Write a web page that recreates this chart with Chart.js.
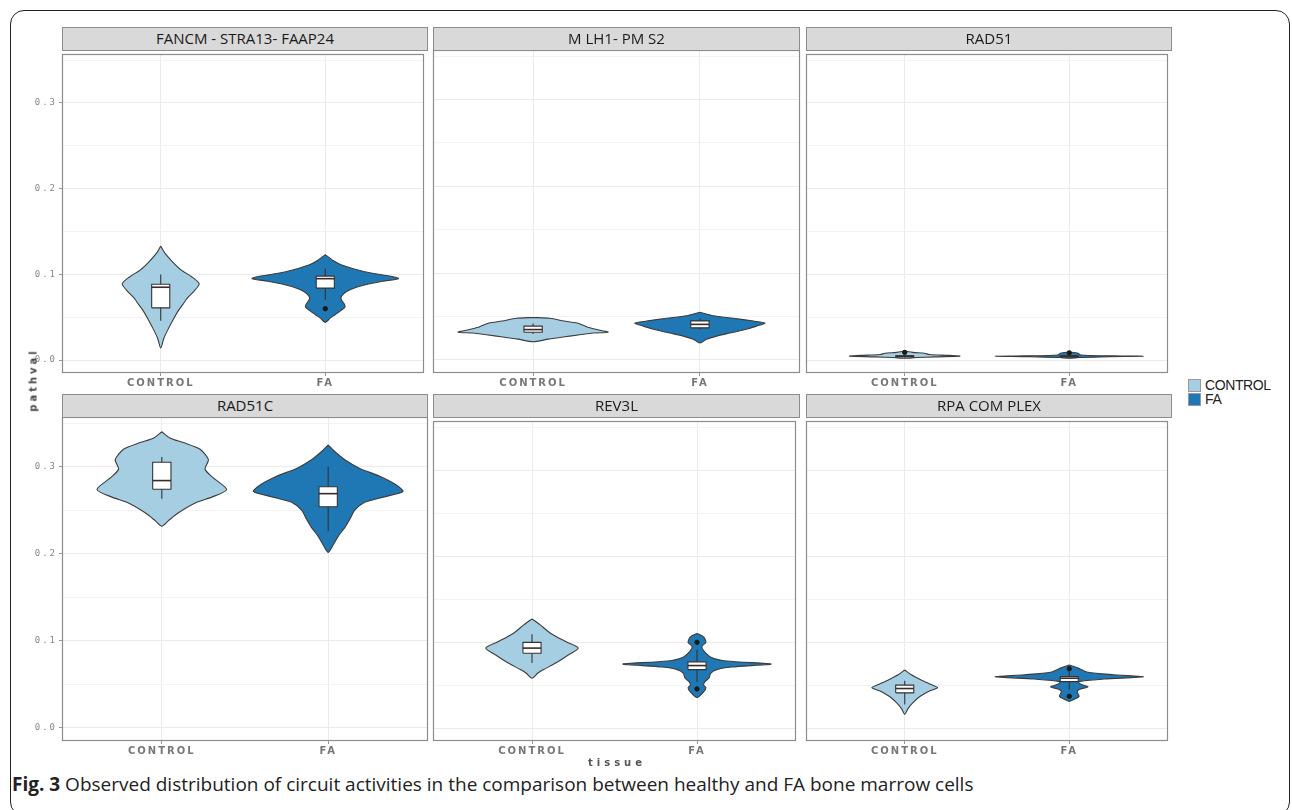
<!DOCTYPE html>
<html lang="en">
<head>
<meta charset="UTF-8">
<title>Fig. 3 circuit activities</title>
<script src="https://cdn.jsdelivr.net/npm/chart.js"></script>
<style>
  body { margin: 0; width: 1292px; height: 810px; background: #fff; position: relative; overflow: hidden; font-family: "Open Sans", sans-serif; }
  .frame { position: absolute; left: 10px; top: 10px; width: 1280px; height: 806px; border: 1.5px solid #222; border-radius: 14px; box-sizing: border-box; }
  .strip { position: absolute; background: #d9d9d9; border: 1px solid #8c8c8c; box-sizing: border-box; text-align: center; font-size: 15px; color: #1a1a1a; line-height: 21px; }
  .panel { position: absolute; }
  .ytitle { position: absolute; left: 33px; top: 380px; transform: translate(-50%, -50%) rotate(-90deg); font: bold 10px "DejaVu Sans", sans-serif; letter-spacing: 3px; color: #444; white-space: nowrap; }
  .xtitle { position: absolute; left: 617px; top: 757px; transform: translateX(-50%); font: bold 10px "DejaVu Sans", sans-serif; letter-spacing: 4px; color: #555; }
  .legend { position: absolute; left: 1188px; top: 378px; font: 14px "Liberation Sans", sans-serif; letter-spacing: -0.4px; color: #222; }
  .legend div { height: 14px; line-height: 14px; display: flex; align-items: center; }
  .legend span.key { width: 13px; height: 13px; border: 1px solid #999; box-sizing: border-box; margin-right: 4px; }
  .caption { position: absolute; left: 12px; top: 771px; font-size: 19px; color: #222; white-space: nowrap; }
</style>
</head>
<body>
<div class="frame"></div>
<div id="plots"></div>
<div class="ytitle">pathval</div>
<div class="xtitle">tissue</div>
<div class="legend">
  <div><span class="key" style="background:#a6cee3"></span>CONTROL</div>
  <div><span class="key" style="background:#1f78b4"></span>FA</div>
</div>
<div class="caption"><b>Fig. 3</b> Observed distribution of circuit activities in the comparison between healthy and FA bone marrow cells</div>

<script>
// categories and facets
const groups = ['CONTROL', 'FA'];
const panelNames = ['FANCM - STRA13- FAAP24', 'M LH1- PM S2', 'RAD51', 'RAD51C', 'REV3L', 'RPA COM PLEX'];
const yTicks = [0, 0.05, 0.1, 0.15, 0.2, 0.25, 0.3, 0.35];
const yMin = -0.015, yMax = 0.357;

// violin outlines: [pathval, half width in x units], top tip to bottom tip
const fancmControl = [[0.133,0],[0.125,0.024],[0.115,0.07],[0.105,0.125],[0.097,0.19],[0.089,0.234],[0.080,0.2],[0.072,0.16],[0.065,0.135],[0.058,0.108],[0.046,0.072],[0.035,0.042],[0.025,0.018],[0.014,0]];
const fancmFa = [[0.123,0],[0.116,0.05],[0.111,0.1],[0.103,0.24],[0.097,0.42],[0.095,0.445],[0.092,0.35],[0.089,0.27],[0.085,0.19],[0.080,0.13],[0.075,0.1],[0.071,0.096],[0.066,0.114],[0.062,0.12],[0.058,0.096],[0.053,0.06],[0.049,0.03],[0.044,0]];
const mlh1Control = [[0.049,0],[0.048,0.1],[0.0448,0.186],[0.0425,0.264],[0.038,0.324],[0.0356,0.37],[0.032,0.45],[0.031,0.36],[0.029,0.28],[0.0265,0.18],[0.024,0.09],[0.021,0]];
const mlh1Fa = [[0.055,0],[0.051,0.08],[0.048,0.2],[0.0448,0.32],[0.0425,0.39],[0.039,0.34],[0.0345,0.26],[0.031,0.18],[0.0275,0.1],[0.024,0.04],[0.0195,0]];
const rad51Control = [[0.0105,0],[0.009,0.05],[0.008,0.12],[0.0065,0.15],[0.0055,0.27],[0.0046,0.335],[0.0038,0.18],[0.003,0.07],[0.0022,0]];
const rad51Fa = [[0.0095,0],[0.008,0.054],[0.006,0.07],[0.005,0.24],[0.0046,0.45],[0.004,0.24],[0.003,0.06],[0.0022,0]];
const rad51cControl = [[0.340,0],[0.333,0.048],[0.3276,0.13],[0.320,0.23],[0.308,0.28],[0.297,0.26],[0.287,0.31],[0.2738,0.39],[0.265,0.3],[0.259,0.21],[0.247,0.1],[0.238,0.04],[0.2315,0]];
const rad51cFa = [[0.325,0],[0.318,0.036],[0.308,0.1],[0.298,0.19],[0.289,0.31],[0.280,0.4],[0.2715,0.45],[0.265,0.33],[0.259,0.22],[0.250,0.16],[0.2395,0.13],[0.230,0.1],[0.220,0.06],[0.210,0.03],[0.2015,0]];
const rev3lControl = [[0.127,0],[0.120,0.05],[0.110,0.114],[0.100,0.21],[0.093,0.28],[0.085,0.22],[0.0756,0.144],[0.068,0.07],[0.064,0.036],[0.058,0]];
const rev3lFa = [[0.110,0],[0.106,0.04],[0.0997,0.054],[0.095,0.03],[0.090,0.04],[0.0825,0.084],[0.078,0.18],[0.0745,0.45],[0.071,0.21],[0.068,0.12],[0.064,0.084],[0.058,0.072],[0.054,0.048],[0.050,0.04],[0.047,0.054],[0.042,0.04],[0.0355,0]];
const rpaControl = [[0.0676,0],[0.062,0.04],[0.056,0.1],[0.051,0.156],[0.047,0.2],[0.043,0.15],[0.0355,0.084],[0.0275,0.04],[0.022,0.018],[0.016,0]];
const rpaFa = [[0.0733,0],[0.070,0.05],[0.065,0.114],[0.062,0.27],[0.0596,0.45],[0.057,0.21],[0.054,0.054],[0.051,0.07],[0.048,0.114],[0.045,0.06],[0.042,0.048],[0.037,0.06],[0.034,0.036],[0.031,0]];

// box stats: [lower whisker, Q1, median, Q3, upper whisker]
const fancmControlBox = [0.046, 0.061, 0.085, 0.0885, 0.100];
const fancmFaBox = [0.070, 0.084, 0.095, 0.098, 0.107];
const mlh1ControlBox = [0.030, 0.032, 0.035, 0.039, 0.042];
const mlh1FaBox = [0.035, 0.037, 0.041, 0.045, 0.048];
const rad51ControlBox = [0.003, 0.004, 0.0046, 0.005, 0.006];
const rad51FaBox = [0.003, 0.004, 0.0046, 0.005, 0.006];
const rad51cControlBox = [0.263, 0.274, 0.284, 0.305, 0.311];
const rad51cFaBox = [0.2257, 0.254, 0.269, 0.277, 0.300];
const rev3lControlBox = [0.0756, 0.087, 0.093, 0.0997, 0.109];
const rev3lFaBox = [0.0535, 0.068, 0.0727, 0.077, 0.091];
const rpaControlBox = [0.0275, 0.041, 0.046, 0.050, 0.055];
const rpaFaBox = [0.045, 0.054, 0.058, 0.060, 0.066];

// outlier points
const fancmFaOut = [0.060];
const rad51ControlOut = [0.009];
const rad51FaOut = [0.0085];
const rev3lFaOut = [0.0997, 0.0455];
const rpaFaOut = [0.069, 0.037];

const panels = [
  { violins: [fancmControl, fancmFa], boxes: [fancmControlBox, fancmFaBox], outliers: [[], fancmFaOut] },
  { violins: [mlh1Control, mlh1Fa], boxes: [mlh1ControlBox, mlh1FaBox], outliers: [[], []] },
  { violins: [rad51Control, rad51Fa], boxes: [rad51ControlBox, rad51FaBox], outliers: [rad51ControlOut, rad51FaOut] },
  { violins: [rad51cControl, rad51cFa], boxes: [rad51cControlBox, rad51cFaBox], outliers: [[], []] },
  { violins: [rev3lControl, rev3lFa], boxes: [rev3lControlBox, rev3lFaBox], outliers: [[], rev3lFaOut] },
  { violins: [rpaControl, rpaFa], boxes: [rpaControlBox, rpaFaBox], outliers: [[], rpaFaOut] }
];

const fills = ['#a6cee3', '#1f78b4'];
const outline = '#3c3c3c';
const boxHalf = 0.055;

// layout of the facet grid
const colLeft = [62, 433, 806], colW = [366, 367, 366];
const rowTop = [50, 417], rowH = [323, 324];
const stripH = 23, xH = 20, yW = 34;

function violinPoints(profile, c) {
  const right = profile.map(([y, w]) => ({ x: c + w, y }));
  const left = profile.slice().reverse().map(([y, w]) => ({ x: c - w, y }));
  return right.concat(left.slice(1));
}

function buildDatasets(p) {
  const sets = [];
  groups.forEach((g, i) => {
    const c = i + 1;
    const [lo, q1, med, q3, hi] = p.boxes[i];
    sets.push({ data: violinPoints(p.violins[i], c), showLine: true, fill: 'shape', backgroundColor: fills[i],
      borderColor: outline, borderWidth: 1.1, tension: 0.25, pointRadius: 0, order: 5 });
    sets.push({ data: [{ x: c, y: lo }, { x: c, y: hi }], showLine: true, borderColor: '#333', borderWidth: 1.1, pointRadius: 0, order: 4 });
    sets.push({ data: [{ x: c - boxHalf, y: q1 }, { x: c + boxHalf, y: q1 }, { x: c + boxHalf, y: q3 }, { x: c - boxHalf, y: q3 }, { x: c - boxHalf, y: q1 }],
      showLine: true, fill: 'shape', backgroundColor: '#fff', borderColor: '#333', borderWidth: 1.1, pointRadius: 0, order: 3 });
    sets.push({ data: [{ x: c - boxHalf, y: med }, { x: c + boxHalf, y: med }], showLine: true, borderColor: '#3a2a2a', borderWidth: 1.6, pointRadius: 0, order: 2 });
    sets.push({ data: p.outliers[i].map(v => ({ x: c, y: v })), showLine: false, pointRadius: 2.2, backgroundColor: '#1a1a1a', borderColor: '#1a1a1a', order: 1 });
  });
  return sets;
}

// panel border drawn round the chart area
const panelFrame = {
  id: 'panelFrame',
  afterDraw(chart) {
    const { ctx, chartArea: a } = chart;
    ctx.save();
    ctx.strokeStyle = '#8c8c8c';
    ctx.lineWidth = 1.2;
    ctx.strokeRect(a.left + 0.5, a.top + 0.5, a.right - a.left - 1, a.bottom - a.top - 1);
    ctx.restore();
  }
};

// spaced-out tick text like the original
const spacedText = {
  id: 'spacedText',
  beforeDraw(chart) { chart.ctx.letterSpacing = '2px'; },
  afterDraw(chart) { chart.ctx.letterSpacing = '0px'; }
};

const isMajor = v => Math.abs(v * 10 - Math.round(v * 10)) < 1e-9;
const clear = 'rgba(0,0,0,0)';
const host = document.getElementById('plots');

panels.forEach((p, idx) => {
  const r = Math.floor(idx / 3), c = idx % 3;
  const left = c === 0;

  const strip = document.createElement('div');
  strip.className = 'strip';
  strip.style.left = colLeft[c] + 'px';
  strip.style.top = (rowTop[r] - stripH) + 'px';
  strip.style.width = colW[c] + 'px';
  strip.style.height = (stripH + 1) + 'px';
  strip.textContent = panelNames[idx];
  document.body.appendChild(strip);

  const box = document.createElement('div');
  box.className = 'panel';
  box.style.left = (colLeft[c] - yW) + 'px';
  box.style.top = (rowTop[r] - 1) + 'px';
  box.style.width = (colW[c] + yW + 1) + 'px';
  box.style.height = (rowH[r] + 1 + xH) + 'px';
  const canvas = document.createElement('canvas');
  box.appendChild(canvas);
  host.appendChild(box);

  new Chart(canvas, {
    type: 'scatter',
    data: { datasets: buildDatasets(p) },
    options: {
      responsive: true,
      maintainAspectRatio: false,
      animation: false,
      layout: { padding: { top: 1, right: 1, left: 0, bottom: 0 } },
      plugins: { legend: { display: false }, tooltip: { enabled: false } },
      scales: {
        x: {
          type: 'linear', min: 0.4, max: 2.6,
          afterBuildTicks: s => { s.ticks = [{ value: 1 }, { value: 2 }]; },
          afterFit: s => { s.height = xH; s.paddingLeft = 0; s.paddingRight = 0; },
          ticks: { callback: v => groups[Math.round(v) - 1], color: '#777', padding: 1, maxRotation: 0,
            font: { family: 'DejaVu Sans', size: 10, weight: 'bold' } },
          grid: { color: '#ebebeb', tickColor: '#999', tickLength: 3 },
          border: { display: false }
        },
        y: {
          type: 'linear', min: yMin, max: yMax,
          afterBuildTicks: s => { s.ticks = yTicks.map(v => ({ value: v })); },
          afterFit: s => { s.width = yW; s.paddingTop = 0; s.paddingBottom = 0; },
          ticks: { callback: v => isMajor(v) ? v.toFixed(1) : '', color: left ? '#888' : clear, padding: 2,
            font: { family: 'DejaVu Sans Mono', size: 9 } },
          grid: {
            color: ctx => isMajor(ctx.tick.value) ? '#ebebeb' : '#f3f3f3',
            tickColor: ctx => (left && isMajor(ctx.tick.value)) ? '#999' : clear,
            tickLength: 3
          },
          border: { display: false }
        }
      }
    },
    plugins: [panelFrame, spacedText]
  });
});
</script>
</body>
</html>
